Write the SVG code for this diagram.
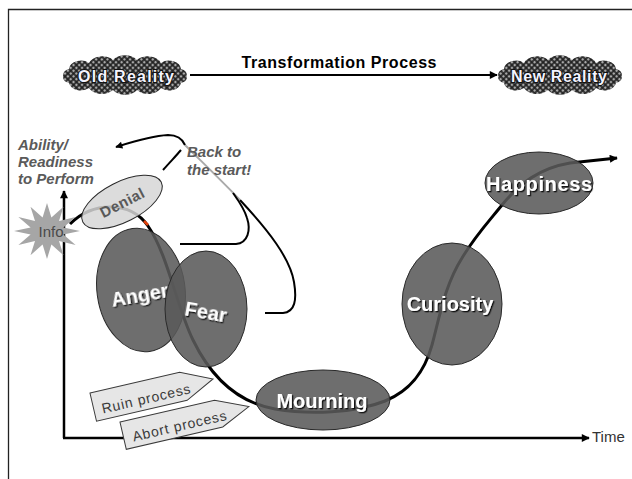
<svg xmlns="http://www.w3.org/2000/svg" width="632" height="479" viewBox="0 0 632 479">
<style>
text{font-family:"Liberation Sans",Arial,sans-serif}
.frame{stroke:#222;stroke-width:1.3;fill:none}
.axis{stroke:#000;stroke-width:2.5;fill:none}
.curve{stroke:#000;stroke-width:3;fill:none}
.loop{stroke:#000;stroke-width:2;fill:none}
.loopg{stroke:#aaa;stroke-width:2;fill:none}
.emo{fill:#5a5a5a;fill-opacity:0.88;stroke:#2a2a2a;stroke-width:1}
.den{fill:#d6d6d6;fill-opacity:0.85;stroke:#2a2a2a;stroke-width:1}
.lbl{fill:#fff;font-weight:bold;font-size:20px;filter:url(#sh)}
.cloud{fill:url(#mesh)}
.ctext{fill:#f4f4ff;stroke:#111;stroke-width:2;paint-order:stroke;font-weight:bold;font-size:16px}
.note{fill:#5a5a5a;font-style:italic;font-weight:bold;font-size:15px}
.tag{fill:#e6e6e6;stroke:#3a3a3a;stroke-width:1}
.tagt{fill:#3a3a3a;font-size:14px;letter-spacing:0.8px}
</style>
<defs>
<marker id="arr" viewBox="0 0 10 10" refX="9" refY="5" markerWidth="10" markerHeight="8" markerUnits="userSpaceOnUse" orient="auto">
<path d="M0,0 L10,5 L0,10 z" fill="#000"/>
</marker>
<marker id="arrs" viewBox="0 0 10 10" refX="9" refY="5" markerWidth="8" markerHeight="7" markerUnits="userSpaceOnUse" orient="auto">
<path d="M0,0 L10,5 L0,10 z" fill="#000"/>
</marker>
<pattern id="mesh" width="4" height="4" patternUnits="userSpaceOnUse" patternTransform="rotate(45)">
<rect width="4" height="4" fill="#1c1c1c"/>
<rect x="0.8" y="0.8" width="2.4" height="2.4" fill="#a8a8a8"/>
</pattern>
<filter id="sh" x="-10%" y="-20%" width="130%" height="150%">
<feDropShadow dx="1.3" dy="1.3" stdDeviation="0.5" flood-color="#000" flood-opacity="0.85"/>
</filter>
</defs>

<g id="frame">
<path class="frame" d="M8.5,479 L8.5,9.5 L632,9.5"/>
</g>

<g id="connectors">
<path class="axis" d="M64,438 L64,191" marker-end="url(#arr)"/>
<path class="axis" d="M63,438 L589,438" marker-end="url(#arr)"/>
<path d="M190,75 L497,75" stroke="#000" stroke-width="2" fill="none" marker-end="url(#arr)"/>
<path class="curve" d="M70,224 C92,202 130,200 148,226 C168,255 176,305 193,340 C210,375 235,402 275,409 C310,415 355,413 385,401 C412,390 425,370 432,345 C440,315 445,285 462,258 C475,236 490,220 502,205 C520,183 540,168 570,163 L617,158" marker-end="url(#arr)"/>
<path d="M144,221 L148,225" stroke="#e0400a" stroke-width="2.5" fill="none"/>
<path class="loop" d="M265,313 L283,313 C295,312 297,300 294,282 C290,258 268,230 240,200"/>
<path class="loopg" d="M240,200 C225,184 200,160 185,145"/>
<path class="loop" d="M185,145 C182,138 177,135 168,135 C150,136 132,142 116,147" marker-end="url(#arrs)"/>
<path class="loop" d="M180,244 L236,244 C248,243 251,230 247,218 C244,208 238,200 233,193"/>
<path class="loop" d="M163,170 C170,162 176,156 181,150"/>
</g>

<g id="old-reality">
<path class="cloud" d="M63,76 a8,7 0 0 1 6,-7 a12,9 0 0 1 20,-6 a14,10 0 0 1 24,-3 a14,10 0 0 1 24,0 a14,10 0 0 1 24,3 a12,9 0 0 1 20,6 a8,7 0 0 1 6,7 a8,7 0 0 1 -6,7 a12,9 0 0 1 -20,5 a14,10 0 0 1 -24,2 a14,10 0 0 1 -24,0 a14,10 0 0 1 -24,-2 a12,9 0 0 1 -20,-5 a8,7 0 0 1 -6,-7 z"/>
<text class="ctext" x="126" y="82" text-anchor="middle" textLength="96" lengthAdjust="spacing">Old Reality</text>
</g>

<g id="new-reality">
<path class="cloud" d="M498,76 a8,7 0 0 1 6,-7 a12,9 0 0 1 20,-6 a14,10 0 0 1 24,-3 a14,10 0 0 1 24,0 a14,10 0 0 1 24,3 a12,9 0 0 1 20,6 a8,7 0 0 1 6,7 a8,7 0 0 1 -6,7 a12,9 0 0 1 -20,5 a14,10 0 0 1 -24,2 a14,10 0 0 1 -24,0 a14,10 0 0 1 -24,-2 a12,9 0 0 1 -20,-5 a8,7 0 0 1 -6,-7 z"/>
<text class="ctext" x="559" y="82" text-anchor="middle" textLength="96" lengthAdjust="spacing">New Reality</text>
</g>

<text x="339" y="68" text-anchor="middle" font-weight="bold" font-size="16" textLength="195" lengthAdjust="spacing">Transformation  Process</text>

<g id="denial">
<ellipse class="den" cx="122" cy="202" rx="44" ry="20" transform="rotate(-27 122 202)"/>
<text x="122" y="208" text-anchor="middle" fill="#595959" font-weight="bold" font-size="15" letter-spacing="0.5" transform="rotate(-27 122 202)">Denial</text>
</g>

<g id="anger">
<ellipse class="emo" cx="141" cy="290" rx="44" ry="62" transform="rotate(-8 141 290)"/>
<text class="lbl" x="140" y="302" text-anchor="middle" transform="rotate(-10 140 296)">Anger</text>
</g>

<g id="fear">
<ellipse class="emo" cx="206" cy="309" rx="41" ry="58"/>
<text class="lbl" x="206" y="319" text-anchor="middle" transform="rotate(10 206 312)">Fear</text>
</g>

<g id="mourning">
<ellipse class="emo" cx="323" cy="400" rx="67" ry="30"/>
<text class="lbl" x="322" y="408" text-anchor="middle">Mourning</text>
</g>

<g id="curiosity">
<ellipse class="emo" cx="452" cy="304" rx="50" ry="61"/>
<text class="lbl" x="450" y="311" text-anchor="middle">Curiosity</text>
</g>

<g id="happiness">
<ellipse class="emo" cx="539" cy="183" rx="54" ry="31"/>
<text class="lbl" x="539" y="191" text-anchor="middle" textLength="106" lengthAdjust="spacing">Happiness</text>
</g>

<g id="info">
<polygon fill="#a6a6a6" points="47,203 51.4,217.5 63.5,206.8 59,221.1 75.6,217 63.4,227.4 80,231 63.4,234.6 75.6,245 59,240.9 63.5,255.2 51.4,244.5 47,259 42.6,244.5 30.5,255.2 35,240.9 18.4,245 30.6,234.6 14,231 30.6,227.4 18.4,217 35,221.1 30.5,206.8 42.6,217.5"/>
<text x="51" y="237" text-anchor="middle" fill="#4a4a4a" font-size="15">Info</text>
</g>

<g id="ruin-process">
<g transform="translate(90,393) rotate(-13)">
<polygon class="tag" points="0,0 92,0 123,14 93,29 0,29"/>
<text class="tagt" x="8" y="23">Ruin process</text>
</g>
</g>

<g id="abort-process">
<g transform="translate(120,422) rotate(-13)">
<polygon class="tag" points="0,0 97,0 129,14 99,28 0,28"/>
<text class="tagt" x="9" y="22">Abort process</text>
</g>
</g>

<g id="ability-label">
<text class="note" x="18" y="150">Ability/</text>
<text class="note" x="18" y="167">Readiness</text>
<text class="note" x="18" y="184">to Perform</text>
</g>

<g id="back-label">
<text class="note" x="187" y="157">Back to</text>
<text class="note" x="187" y="175">the start!</text>
</g>

<text x="592" y="442" fill="#333" font-size="15">Time</text>
</svg>
